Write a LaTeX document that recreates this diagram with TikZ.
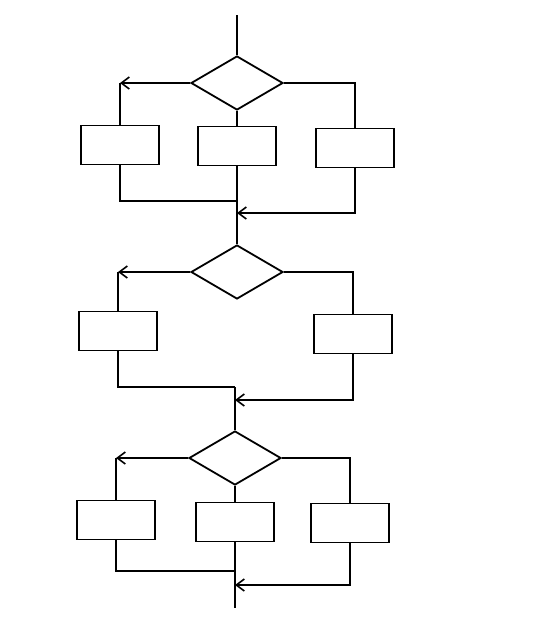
\documentclass[tikz,border=0pt]{standalone}
\usetikzlibrary{shapes.geometric,arrows.meta}
\begin{document}
\begin{tikzpicture}[x=1pt,y=-1pt,line width=1.8pt,
  dec/.style={draw,diamond,minimum width=92pt,minimum height=54pt,inner sep=0pt},
  box/.style={draw,rectangle,minimum width=78pt,minimum height=39pt,inner sep=0pt},
  arr/.style={-{Straight Barb[length=8pt,width=12pt,line width=1.6pt]}}]
\useasboundingbox (0,0) rectangle (560,630);
% section 1
\coordinate (s1) at (237,15);
\node[dec] (d1) at (237,83) {};
\node[box] (b1l) at (120,145) {};
\node[box] (b1m) at (237,146) {};
\node[box] (b1r) at (355,148) {};
\coordinate (j1l) at (237,201);
\coordinate (j1r) at (237,213);
\coordinate (c1l) at (120,83);
\draw (s1) -- (d1.north);
\draw[arr] (d1.west) -- (c1l);
\draw (c1l) -- (b1l.north);
\draw (d1.south) -- (b1m.north);
\draw (d1.east) -| (b1r.north);
\draw (b1l.south) |- (j1l);
\draw[arr] (b1r.south) |- (j1r);
% section 2
\node[dec] (d2) at (237,272) {};
\node[box] (b2l) at (118,331) {};
\node[box] (b2r) at (353,334) {};
\coordinate (c2l) at (118,272);
\coordinate (j2l) at (235,387);
\coordinate (j2r) at (235,400);
\draw (b1m.south) -- (d2.north);
\draw[arr] (d2.west) -- (c2l);
\draw (c2l) -- (b2l.north);
\draw (d2.east) -| (b2r.north);
\draw (b2l.south) |- (j2l);
\draw[arr] (b2r.south) |- (j2r);
% section 3
\node[dec] (d3) at (235,458) {};
\node[box] (b3l) at (116,520) {};
\node[box] (b3m) at (235,522) {};
\node[box] (b3r) at (350,523) {};
\coordinate (c3l) at (116,458);
\coordinate (j3l) at (235,571);
\coordinate (j3r) at (235,585);
\coordinate (e3) at (235,608);
\draw (j2l) -- (d3.north);
\draw[arr] (d3.west) -- (c3l);
\draw (c3l) -- (b3l.north);
\draw (d3.south) -- (b3m.north);
\draw (d3.east) -| (b3r.north);
\draw (b3l.south) |- (j3l);
\draw[arr] (b3r.south) |- (j3r);
\draw (b3m.south) -- (e3);
\end{tikzpicture}
\end{document}
